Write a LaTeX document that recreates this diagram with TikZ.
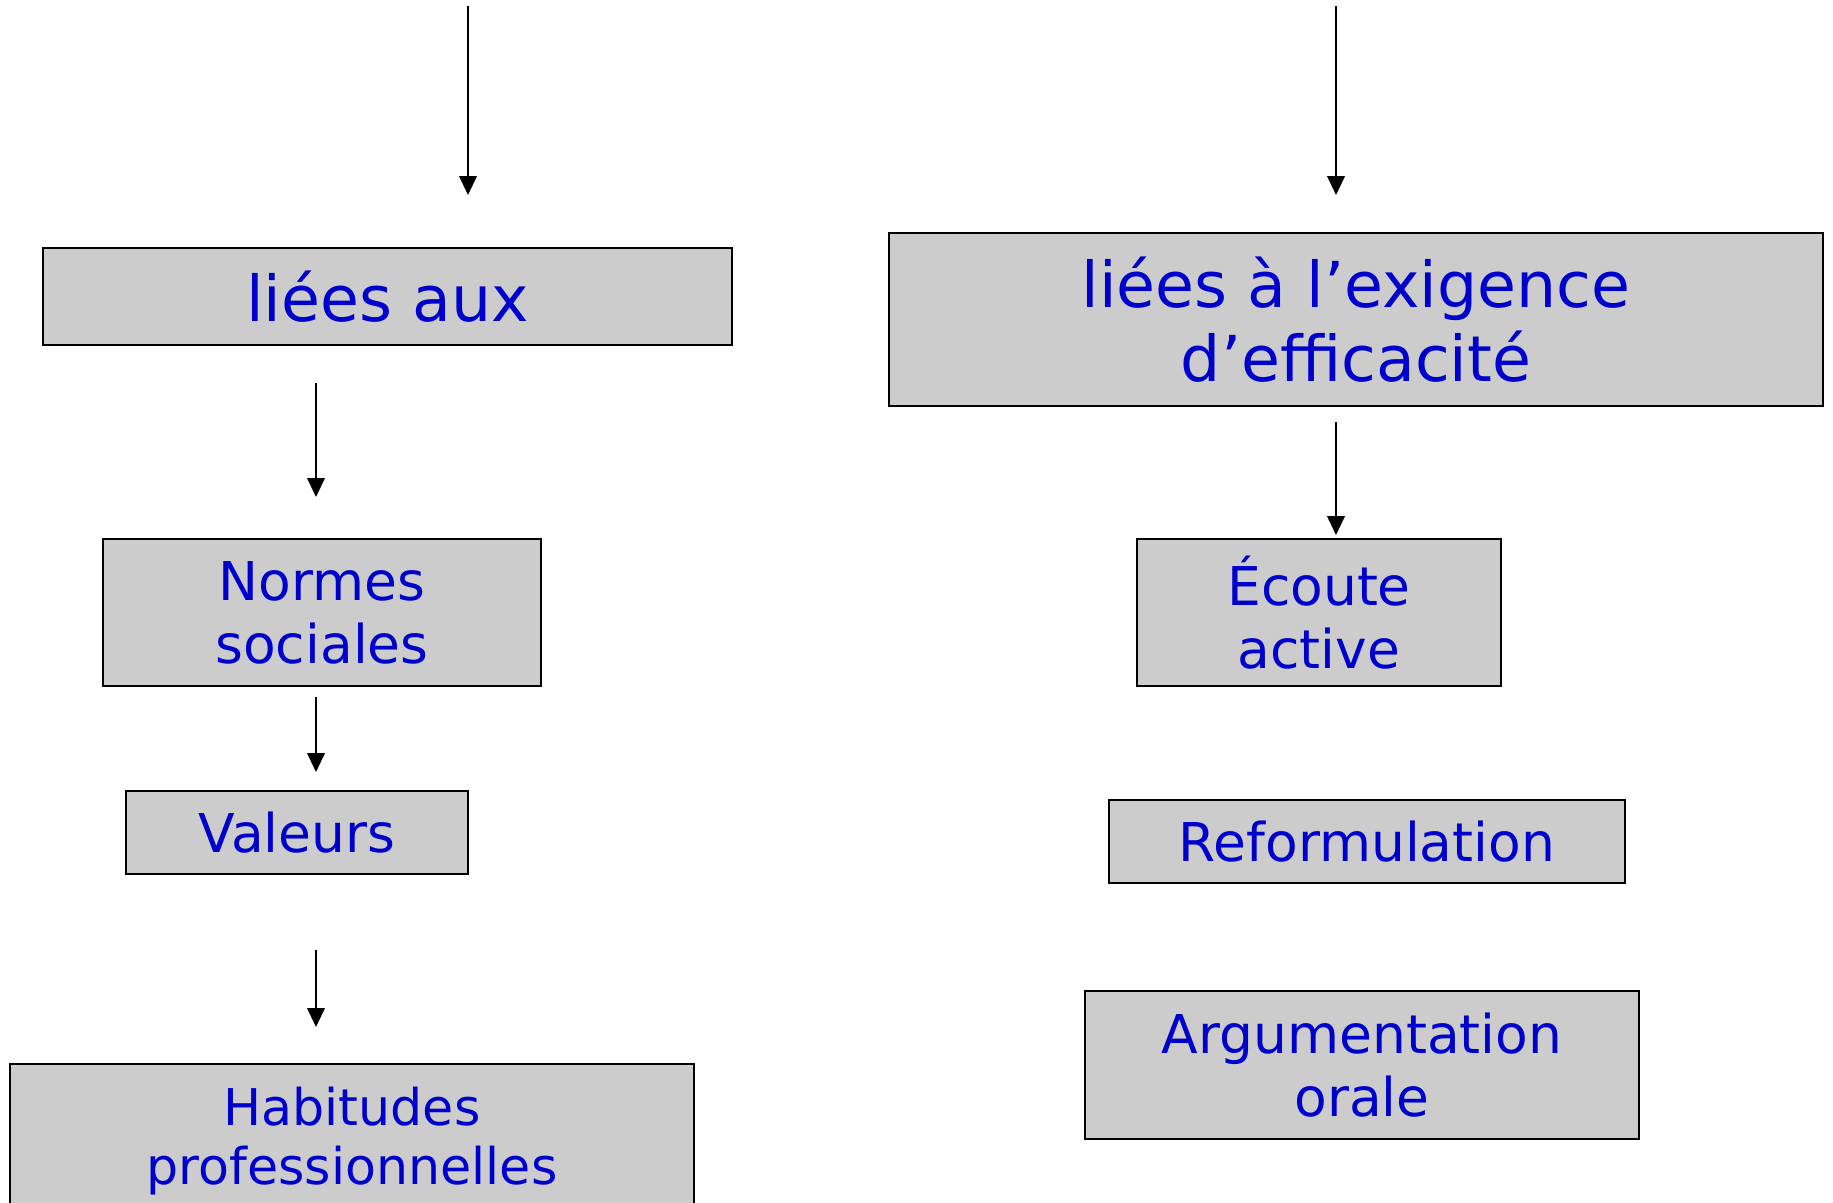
\documentclass[tikz,border=0pt]{standalone}
\usepackage{fontspec}
\setmainfont{DejaVu Sans}
\usetikzlibrary{arrows.meta}
\definecolor{boxgray}{HTML}{CCCCCC}
\definecolor{textblue}{HTML}{0000CC}
\tikzset{
	box/.style={draw=black, line width=0.6pt, fill=boxgray, text=textblue, align=center, inner sep=0pt},
	smalltext/.style={font=\fontsize{15.2}{17.9}\selectfont},
	bigtext/.style={font=\fontsize{18}{21}\selectfont},
	arr/.style={-{Triangle[width=5pt,length=5.4pt]}, line width=0.6pt},
}

\begin{document}
\begin{tikzpicture}[x=0.01cm, y=-0.01cm]
	\useasboundingbox (0,0) rectangle (1833,1203);

	% left column
	\node[box, bigtext, minimum width=6.89cm, minimum height=0.97cm] (liees) at (387.5, 296.5) {liées aux};
	\node[box, smalltext, minimum width=4.38cm, minimum height=1.47cm] (normes) at (322, 612.5) {Normes\\sociales};
	\node[box, smalltext, minimum width=3.42cm, minimum height=0.83cm] (valeurs) at (297, 832.5) {Valeurs};
	\node[box, font=\fontsize{14.4}{16.8}\selectfont, minimum width=6.84cm, minimum height=1.54cm] (habitudes) at (352, 1141) {Habitudes\\professionnelles};

	% right column
	\node[box, bigtext, minimum width=9.33cm, minimum height=1.73cm] (exigence) at (1356, 319.5) {liées à l’exigence\\d’efficacité};
	\node[box, smalltext, minimum width=3.64cm, minimum height=1.47cm] (ecoute) at (1319, 612.5) {Écoute\\active};
	\node[box, smalltext, minimum width=5.16cm, minimum height=0.83cm] (reform) at (1367, 841.5) {Reformulation};
	\node[box, smalltext, minimum width=5.54cm, minimum height=1.48cm] (argum) at (1362, 1065) {Argumentation\\orale};

	% arrows
	\coordinate (topL) at (468, 6);
	\coordinate (topLend) at (468, 195);
	\coordinate (topR) at (1336, 6);
	\coordinate (topRend) at (1336, 195);
	\coordinate (liees-s) at (316, 383);
	\coordinate (liees-e) at (316, 497);
	\coordinate (exig-s) at (1336, 422);
	\coordinate (exig-e) at (1336, 535);
	\coordinate (normes-s) at (316, 697);
	\coordinate (normes-e) at (316, 772);
	\coordinate (valeurs-s) at (316, 950);
	\coordinate (valeurs-e) at (316, 1027);
	\draw[arr] (topL) -- (topLend);
	\draw[arr] (topR) -- (topRend);
	\draw[arr] (liees-s) -- (liees-e);
	\draw[arr] (exig-s) -- (exig-e);
	\draw[arr] (normes-s) -- (normes-e);
	\draw[arr] (valeurs-s) -- (valeurs-e);
\end{tikzpicture}
\end{document}
